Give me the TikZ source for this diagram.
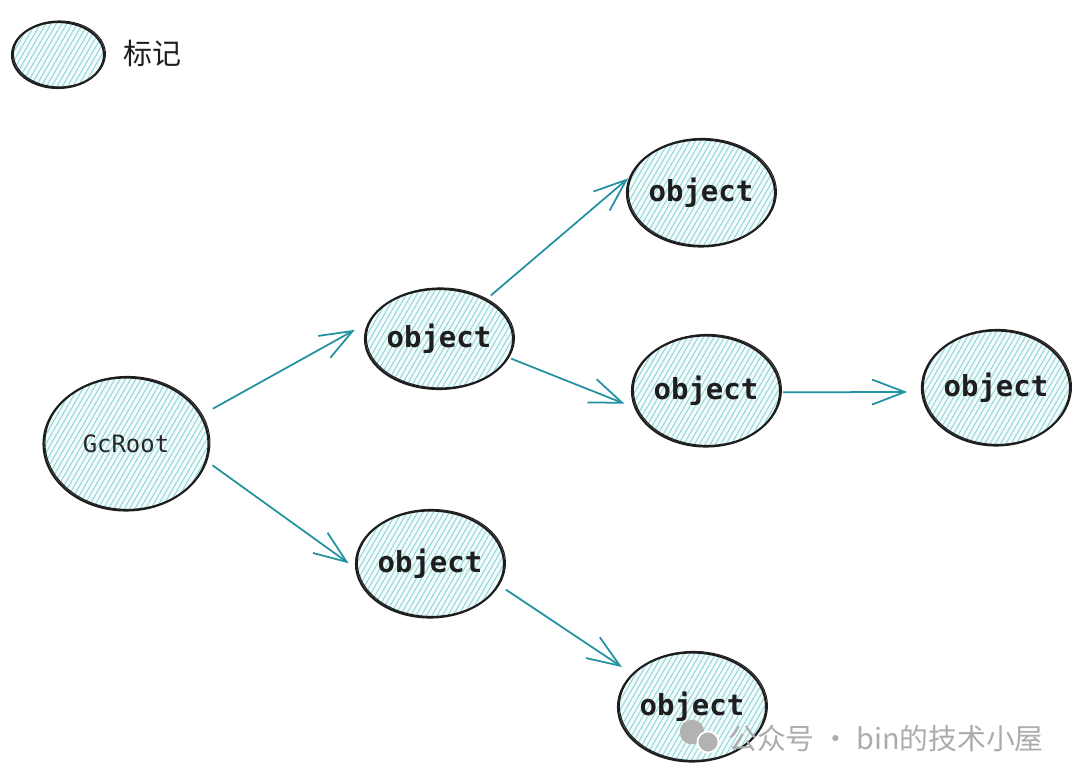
\documentclass[tikz,border=0pt]{standalone}
\usepackage{fontspec}
\setmonofont{DejaVu Sans Mono}
\newfontfamily\cjk{Noto Sans CJK SC}
\usetikzlibrary{shapes.geometric,arrows.meta,patterns.meta}
\definecolor{pfeilfarbe}{RGB}{34,145,160}
\definecolor{schraffur}{RGB}{140,214,218}
\definecolor{randfarbe}{RGB}{30,30,30}
\tikzset{
  objekt/.style={ellipse, draw=randfarbe, line width=1.2pt, inner sep=0pt,
    preaction={fill=schraffur!10},
    pattern={Lines[angle=60,distance=2.6pt,line width=0.55pt]}, pattern color=schraffur,
    postaction={draw=randfarbe, line width=0.6pt, transform canvas={shift={(0.8pt,0.6pt)}}},
    font=\ttfamily\bfseries\fontsize{16.5}{20}\selectfont, text=randfarbe},
  pfeil/.style={draw=pfeilfarbe, line width=1pt,
    -{Straight Barb[length=6.5mm,width=5mm,line width=1pt]}},
}

\begin{document}
\begin{tikzpicture}[x=0.02cm, y=-0.02cm]
        \useasboundingbox (0,0) rectangle (1080,779);

        % Legende
        \node[objekt, minimum width=1.84cm, minimum height=1.32cm] (Legende) at (58,55) {};
        \node[anchor=west, font=\cjk\fontsize{16.5}{20}\selectfont, text=randfarbe] (LegendeText) at (117,53) {标记};

        % Knoten
        \node[objekt, minimum width=3.3cm, minimum height=2.66cm,
              font=\ttfamily\fontsize{13.6}{16}\selectfont, text=black!85] (GcRoot) at (126,444) {GcRoot};
        \node[objekt, minimum width=2.8cm, minimum height=2.0cm] (Obj1) at (439,339) {object};
        \node[objekt, minimum width=2.8cm, minimum height=2.14cm] (Obj2) at (701,193) {object};
        \node[objekt, minimum width=2.84cm, minimum height=2.22cm] (Obj3) at (706,391) {object};
        \node[objekt, minimum width=2.78cm, minimum height=2.3cm] (Obj4) at (996,388) {object};
        \node[objekt, minimum width=2.78cm, minimum height=2.14cm] (Obj5) at (430,564) {object};
        \node[objekt, minimum width=2.78cm, minimum height=2.18cm] (Obj6) at (692,707) {object};

        % Pfeile
        \draw[pfeil, shorten <=0.26cm, shorten >=0.3cm] (GcRoot.21) -- (Obj1.167);
        \draw[pfeil, shorten <=0.12cm, shorten >=0.02cm] (Obj1.40) -- (Obj2.168);
        \draw[pfeil, shorten <=0.05cm, shorten >=0.21cm] (Obj1.-15) -- (Obj3.193);
        \draw[pfeil, shorten <=0.04cm, shorten >=0.28cm] (Obj3.-1) -- (Obj4.183);
        \draw[pfeil, shorten <=0.14cm, shorten >=0.16cm] (GcRoot.-12) -- (Obj5.183);
        \draw[pfeil, shorten <=0.16cm, shorten >=0.24cm] (Obj5.-17) -- (Obj6.151);

        % Wasserzeichen
        \fill[gray!60] (692,732) circle (7pt);
        \fill[gray!60, draw=white, line width=1pt] (708,742) circle (6pt);
        \node[anchor=west, font=\cjk\fontsize{16.4}{19}\selectfont, text=gray!65] (Wasserzeichen) at (722,738) {公众号 · bin的技术小屋};
\end{tikzpicture}
\end{document}
